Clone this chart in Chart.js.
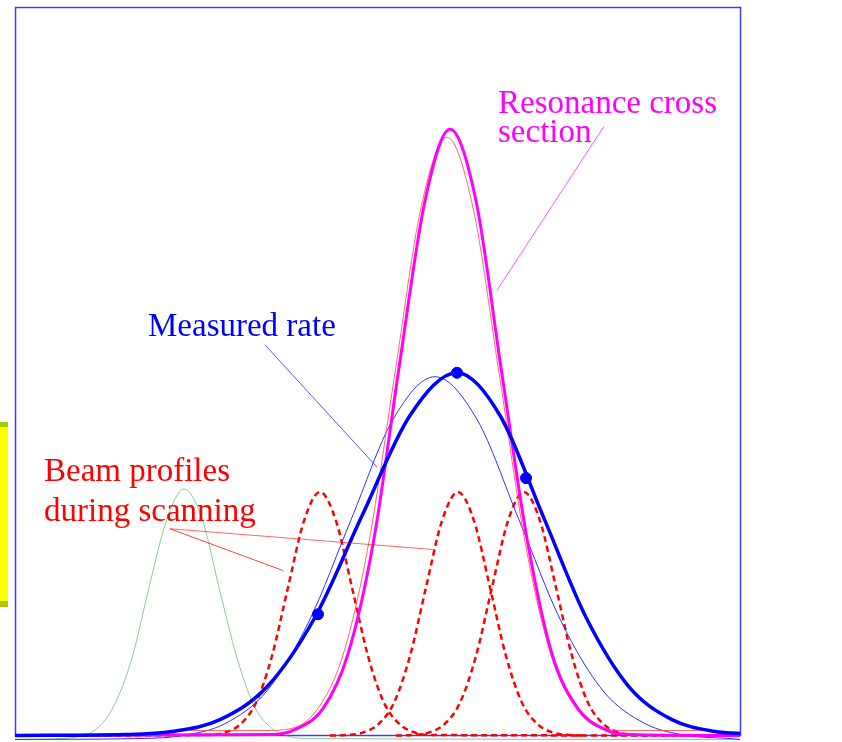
<!DOCTYPE html>
<html>
<head>
<meta charset="utf-8">
<script src="https://cdn.jsdelivr.net/npm/chart.js@4.4.1/dist/chart.umd.min.js"></script>
<style>
  html, body { margin: 0; padding: 0; background: #fff; }
  #wrap { width: 842px; height: 742px; }
</style>
</head>
<body>
<div id="wrap"><canvas id="myChart"></canvas></div>
<script>
// scan energy (arbitrary units) vs. signal height

// resonance cross section (thick magenta) and its thin companion
const crossX = [0, 257, 282, 308, 333, 359, 384, 410, 435, 461, 486, 512, 537, 563, 588, 614, 725];
const crossY = [0, 1, 7, 27, 82, 198, 370, 538, 610, 538, 370, 198, 82, 27, 7, 1, 0];
const crossThinX = [175, 250, 276, 302, 328, 354, 380, 406, 432, 458, 484, 510, 536, 562, 588, 614, 688];
const crossThinY = [5, 5, 7, 26, 81, 195, 365, 531, 602, 531, 365, 195, 81, 26, 7, 5, 5];

// measured rate (thick blue) + thin blue curve
const rateX = [0, 110, 157, 205, 252, 300, 347, 395, 442, 485, 528, 571, 614, 657, 700, 725];
const rateY = [0, 1, 4, 16, 49, 119, 221, 322, 365, 322, 221, 119, 49, 16, 4, 2];
const rateThinX = [0, 126, 168, 210, 252, 294, 336, 378, 420, 462, 504, 546, 588, 630, 672, 714, 725];
const rateThinY = [-4, -3, 0, 12, 45, 115, 217, 318, 361, 318, 217, 115, 45, 12, 0, -3, -4];
const ratePointsX = [303, 442, 511];
const ratePointsY = [122, 365, 259];

// beam profiles during scanning (red dashed)
const beamAX = [0, 193, 209, 225, 241, 257, 273, 289, 305, 321, 337, 353, 369, 385, 401, 417, 725];
const beamAY = [0, 0.5, 2.7, 11, 33, 80, 149, 216, 245, 216, 149, 80, 33, 11, 2.7, 0.5, 0];
const beamBX = [315, 331, 347, 363, 379, 395, 411, 427, 443, 459, 475, 491, 507, 523, 539, 555, 571];
const beamBY = [0, 0.5, 2.7, 11, 33, 80, 149, 216, 245, 216, 149, 80, 33, 11, 2.7, 0.5, 0];
const beamCX = [381, 397, 413, 429, 445, 461, 477, 493, 509, 525, 541, 557, 573, 589, 605, 621, 637];
const beamCY = [0, 0.5, 2.7, 11, 33, 80, 149, 216, 245, 216, 149, 80, 33, 11, 2.7, 0.5, 0];

// faint green profile on the left
const greenX = [0, 47, 64, 82, 99, 117, 134, 152, 169, 187, 204, 222, 239, 257, 274, 292, 725];
const greenY = [-4, -3, -1, 7, 30, 78, 149, 218, 248, 218, 149, 78, 30, 7, -1, -3, -4];

// annotations (data units)
const labels = [
  { text: 'Resonance cross', x: 483, y: 626, color: '#ff00ff' },
  { text: 'section', x: 483, y: 597, color: '#ff00ff' },
  { text: 'Measured rate', x: 133, y: 402, color: '#0000ff' },
  { text: 'Beam profiles', x: 29, y: 256, color: '#ff0000' },
  { text: 'during scanning', x: 29, y: 216, color: '#ff0000' }
];
const pointers = [
  { from: [589, 613], to: [482, 448], color: 'rgba(255,60,255,0.85)' },
  { from: [250, 393], to: [362, 270], color: 'rgba(60,60,255,0.85)' },
  { from: [155, 208], to: [268, 166], color: 'rgba(255,0,0,0.75)' },
  { from: [155, 208], to: [420, 187], color: 'rgba(255,0,0,0.6)' }
];

const pts = (xs, ys) => xs.map((x, i) => ({ x: x, y: ys[i] }));

const curve = (data, color, width, extra) => Object.assign({
  data: data,
  borderColor: color,
  borderWidth: width,
  pointRadius: 0,
  showLine: true,
  fill: false,
  clip: false,
  cubicInterpolationMode: 'monotone'
}, extra || {});

const decor = {
  id: 'decor',
  beforeDatasetsDraw(chart) {
    const ctx = chart.ctx;
    const a = chart.chartArea;
    ctx.save();
    // yellow box at the left edge
    ctx.fillStyle = '#ffff00';
    ctx.fillRect(0, 422, 8, 185);
    ctx.fillStyle = '#a8c800';
    ctx.fillRect(0, 422, 8, 5);
    ctx.fillRect(0, 601, 8, 6);
    // frame
    ctx.strokeStyle = '#3c3cff';
    ctx.lineWidth = 1.5;
    ctx.strokeRect(a.left + 0.5, a.top - 0.5, a.right - a.left, a.bottom - a.top + 0.5);
    ctx.restore();
  },
  afterDatasetsDraw(chart) {
    const ctx = chart.ctx;
    const xs = chart.scales.x, ys = chart.scales.y;
    ctx.save();
    ctx.lineWidth = 1;
    pointers.forEach(p => {
      ctx.strokeStyle = p.color;
      ctx.beginPath();
      ctx.moveTo(xs.getPixelForValue(p.from[0]), ys.getPixelForValue(p.from[1]));
      ctx.lineTo(xs.getPixelForValue(p.to[0]), ys.getPixelForValue(p.to[1]));
      ctx.stroke();
    });
    ctx.font = '33px "Liberation Serif", "Times New Roman", serif';
    ctx.textBaseline = 'alphabetic';
    labels.forEach(l => {
      ctx.fillStyle = l.color;
      ctx.fillText(l.text, xs.getPixelForValue(l.x), ys.getPixelForValue(l.y));
    });
    ctx.restore();
  }
};

const ctx = document.getElementById('myChart').getContext('2d');
new Chart(ctx, {
  type: 'scatter',
  data: {
    datasets: [
      { data: pts(ratePointsX, ratePointsY), backgroundColor: '#0000ff', borderColor: '#0000ff',
        pointRadius: 5.5, showLine: false, clip: false },
      curve(pts(rateX, rateY), '#0000ff', 3.5),
      curve(pts(crossX, crossY), '#ff00ff', 3),
      curve(pts(crossThinX, crossThinY), 'rgba(255,70,50,0.8)', 1),
      curve(pts(rateThinX, rateThinY), '#3030ff', 1),
      curve(pts(beamAX, beamAY), '#ff0000', 2.5, { borderDash: [6, 4] }),
      curve(pts(beamBX, beamBY), '#ff0000', 2.5, { borderDash: [6, 4] }),
      curve(pts(beamCX, beamCY), '#ff0000', 2.5, { borderDash: [6, 4] }),
      curve(pts(greenX, greenY), 'rgba(70,170,70,0.6)', 1)
    ]
  },
  options: {
    responsive: true,
    maintainAspectRatio: false,
    animation: false,
    layout: { padding: { left: 15, right: 102, top: 8, bottom: 2 } },
    scales: {
      x: { type: 'linear', min: 0, max: 725, display: false },
      y: { type: 'linear', min: 0, max: 732, display: false }
    },
    plugins: {
      legend: { display: false },
      tooltip: { enabled: false }
    }
  },
  plugins: [decor]
});
</script>
</body>
</html>
